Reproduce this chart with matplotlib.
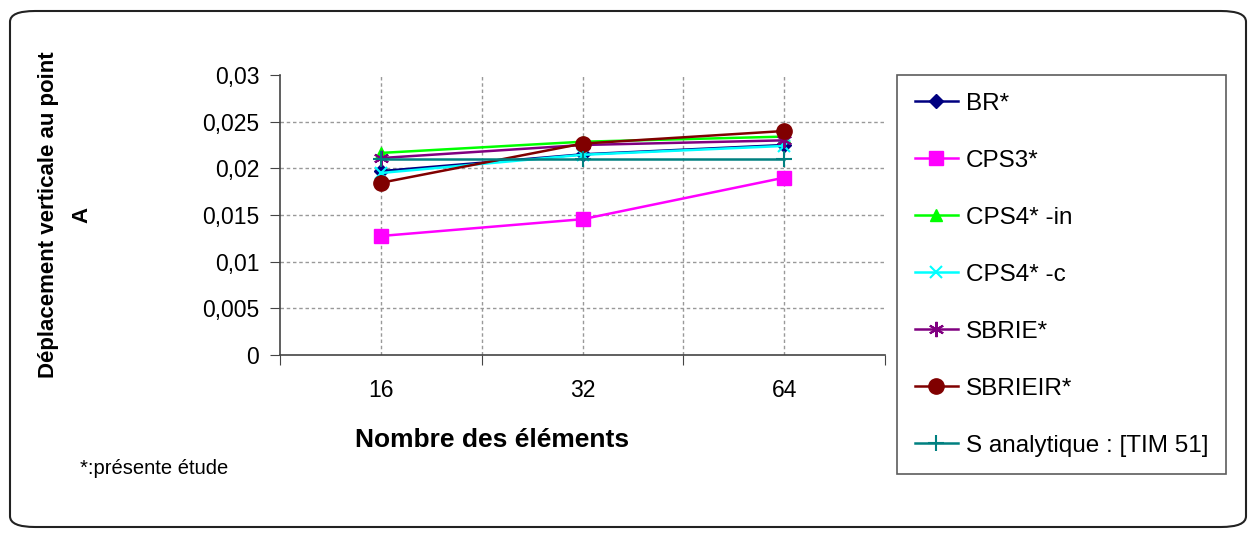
"""Vertical displacement at point A vs number of elements."""
import matplotlib.pyplot as plt
import numpy as np
from matplotlib.patches import FancyBboxPatch

plt.rcParams["font.family"] = ["Liberation Sans", "DejaVu Sans"]

categories = ["16", "32", "64"]
br = [0.0197, 0.0215, 0.0225]
cps3 = [0.01275, 0.01455, 0.0190]
cps4_in = [0.02165, 0.02285, 0.0234]
cps4_c = [0.0195, 0.02145, 0.0224]
sbrie = [0.0211, 0.0225, 0.0230]
sbrieir = [0.01845, 0.02265, 0.0240]
s_analytique = [0.0210, 0.0210, 0.0210]

series = [
    ("BR*", br, "#000080", "D", 7),
    ("CPS3*", cps3, "#FF00FF", "s", 10),
    ("CPS4* -in", cps4_in, "#00FF00", "^", 9),
    ("CPS4* -c", cps4_c, "#00FFFF", "x", 9),
    ("SBRIE*", sbrie, "#800080", (6, 2, 0), 11),
    ("SBRIEIR*", sbrieir, "#800000", "o", 11),
    ("S analytique : [TIM 51]", s_analytique, "#008080", "+", 11),
]

fig = plt.figure(figsize=(12.56, 5.39), dpi=100)

# rounded chart frame
frame = FancyBboxPatch((10 / 1256, 12 / 539), 1236 / 1256, 516 / 539,
                       boxstyle="round,pad=0,rounding_size=0.02",
                       transform=fig.transFigure, facecolor="none",
                       edgecolor="#222222", linewidth=1.5, zorder=-1)
fig.patches.append(frame)

ax = fig.add_axes([280 / 1256, 1 - 355 / 539, 605 / 1256, 280 / 539])
ax.set_facecolor("none")

x = np.arange(len(categories))
for label, vals, color, marker, ms in series:
    ax.plot(x, vals, color=color, marker=marker, markersize=ms, linewidth=1.8,
            markeredgewidth=1.5 if marker in ("x", "+") or isinstance(marker, tuple) else 1,
            label=label, zorder=3, clip_on=False)

ax.set_xlim(-0.5, len(categories) - 0.5)
ax.set_ylim(0, 0.03)
yt = np.arange(0, 0.0301, 0.005)
ax.set_yticks(yt)
ax.set_yticklabels([("%g" % v).replace(".", ",") for v in yt], fontsize=16.5)

ax.set_xticks(np.arange(-0.5, len(categories), 1.0))
ax.set_xticklabels([])
ax.set_xticks(x, minor=True)
ax.set_xticklabels(categories, minor=True, fontsize=16.5)
ax.tick_params(axis="x", which="minor", length=0, pad=17)
ax.tick_params(axis="x", which="major", length=7, direction="out", color="#444444")
ax.tick_params(axis="y", length=7, direction="out", color="#444444", pad=8)

for v in yt[1:-1]:
    ax.axhline(v, color="#999999", linestyle=(0, (2.5, 2)), linewidth=1, zorder=1)
for v in np.arange(0, len(categories) - 0.9, 0.5):
    ax.axvline(v, color="#999999", linestyle=(0, (2.5, 2)), linewidth=1, zorder=1)

for s in ("top", "right"):
    ax.spines[s].set_visible(False)
for s in ("left", "bottom"):
    ax.spines[s].set_color("#444444")
    ax.spines[s].set_linewidth(1.2)

fig.text(492 / 1256, 1 - 440 / 539, "Nombre des éléments", ha="center", va="center",
         fontsize=19, fontweight="bold")
fig.text(65 / 1256, 1 - 215 / 539, "Déplacement verticale au point\nA", rotation=90,
         ha="center", va="center", fontsize=16, fontweight="bold", linespacing=1.75)
fig.text(80 / 1256, 1 - 469 / 539, "*:présente étude", fontsize=14.5, va="center")

leg = fig.legend(loc="upper left", bbox_to_anchor=(897 / 1256, 1 - 75 / 539),
                 fontsize=17.5, frameon=True, fancybox=False, edgecolor="#333333",
                 labelspacing=1.44, handlelength=1.8, handletextpad=0.32,
                 borderpad=0.72, borderaxespad=0)
leg.get_frame().set_linewidth(1.2)

fig.savefig("out.png", dpi=100)
